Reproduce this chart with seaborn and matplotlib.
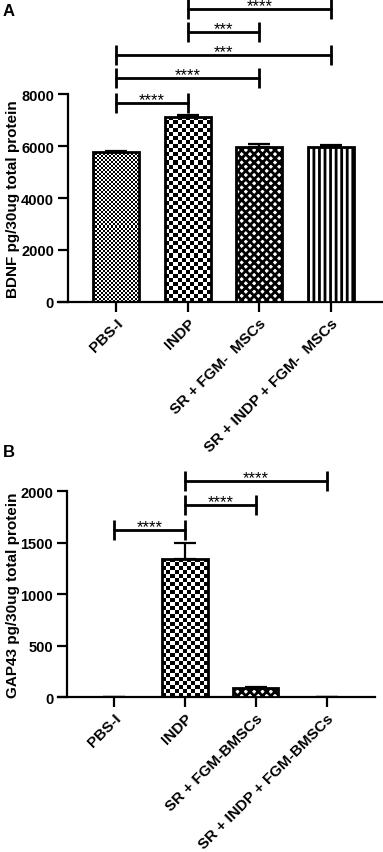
import numpy as np
import pandas as pd
import matplotlib
matplotlib.use("Agg")
import matplotlib.pyplot as plt
import seaborn as sns

# panel A - BDNF
bdnf_groups = ["PBS-I", "INDP", "SR + FGM-  MSCs", "SR + INDP + FGM-  MSCs"]
bdnf_mean = [5780, 7125, 5975, 5950]
bdnf_err = [45, 60, 100, 80]
bdnf_sig = [(0, 1, 7650, "****"), (0, 2, 8615, "****"), (0, 3, 9500, "***"),
            (1, 2, 10385, "***"), (1, 3, 11270, "****")]

# panel B - GAP43
gap_groups = ["PBS-I", "INDP", "SR + FGM-BMSCs", "SR + INDP + FGM-BMSCs"]
gap_mean = [0, 1340, 85, 0]
gap_err = [0, 160, 12, 0]
gap_sig = [(0, 1, 1620, "****"), (1, 2, 1865, "****"), (1, 3, 2100, "****")]

# fill style per bar: ("check", cell px) or hatch string
fills = [("check", 2), ("check", 4), ("hatch", "xxxx"), ("hatch", "|||")]

sns.set_style("ticks")
plt.rcParams["font.family"] = ["Liberation Sans", "DejaVu Sans"]
plt.rcParams["font.weight"] = "bold"
plt.rcParams["hatch.linewidth"] = 2.0
for k in ("text.color", "axes.labelcolor", "xtick.color", "ytick.color",
          "axes.edgecolor"):
    plt.rcParams[k] = "black"

fig = plt.figure(figsize=(3.83, 8.53), dpi=100)
axA = fig.add_axes([0.151, 0.6448, 0.846, 0.2438])
axB = fig.add_axes([0.151, 0.1817, 0.828, 0.2415])


def checker(nx, ny):
    return np.add.outer(np.arange(ny), np.arange(nx)) % 2


def panel(ax, groups, means, errs, sig, ymax, step, xlim, spine_x, ylabel):
    df = pd.DataFrame({"group": groups, "value": means})
    sns.barplot(data=df, x="group", y="value", ax=ax, color="white",
                edgecolor="black", linewidth=2.0, width=0.64, errorbar=None,
                saturation=1, zorder=3)
    ax.set_xlim(*xlim)
    ax.set_ylim(0, ymax)
    bars = ax.patches
    for bar, (kind, arg) in zip(bars, fills):
        if kind == "hatch":
            bar.set_hatch(arg)
            bar.set_facecolor("white")
        else:
            bar.set_facecolor("none")
            x0, w, h = bar.get_x(), bar.get_width(), bar.get_height()
            if h <= 0:
                continue
            p0 = ax.transData.transform((x0, 0))
            p1 = ax.transData.transform((x0 + w, h))
            nx = max(1, int(round((p1[0] - p0[0]) / arg)))
            ny = max(1, int(round((p1[1] - p0[1]) / arg)))
            im = ax.imshow(checker(nx, ny), cmap="gray", aspect="auto",
                           interpolation="nearest", extent=(x0, x0 + w, 0, h),
                           origin="lower", zorder=2)
            im.set_clip_path(bar)
    ax.set_xlim(*xlim)
    ax.set_ylim(0, ymax)

    xs = np.arange(len(groups))
    ax.errorbar(xs, means, yerr=[np.zeros(len(errs)), errs], fmt="none",
                ecolor="black", elinewidth=1.6, capsize=8, capthick=1.6,
                zorder=4)

    for a, b, y, txt in sig:
        ax.plot([a, b], [y, y], color="black", lw=2, marker="|",
                markersize=15, mew=2, clip_on=False, zorder=5)
        ax.annotate(txt, ((a + b) / 2, y), xytext=(0, -1),
                    textcoords="offset points", ha="center", va="baseline",
                    fontsize=12, fontweight="normal", annotation_clip=False)

    sns.despine(ax=ax)
    ax.spines["left"].set_position(("data", spine_x))
    ax.spines["left"].set_bounds(0, ymax)
    for s in ("left", "bottom"):
        ax.spines[s].set_linewidth(1.6)
    ax.set_yticks(np.arange(0, ymax + 1, step))
    ax.tick_params(axis="both", width=1.6, length=7, labelsize=10.5, pad=3)
    ax.set_xticks(xs)
    ax.set_xticklabels(groups, rotation=45, ha="right",
                       rotation_mode="anchor", fontweight="bold", fontsize=11)
    for t in ax.get_yticklabels():
        t.set_fontweight("bold")
    ax.set_xlabel("")
    ax.set_ylabel(ylabel, fontsize=11, fontweight="bold")


panel(axA, bdnf_groups, bdnf_mean, bdnf_err, bdnf_sig, 8000, 2000,
      (-0.81, 3.71), -0.67, "BDNF pg/30ug total protein")
panel(axB, gap_groups, gap_mean, gap_err, gap_sig, 2000, 500,
      (-0.79, 3.68), -0.66, "GAP43 pg/30ug total protein")
axA.yaxis.set_label_coords(-0.117, 0.5)
axB.yaxis.set_label_coords(-0.12, 0.5)

fig.text(0.008, 0.995, "A", fontsize=12, fontweight="bold", va="top")
fig.text(0.008, 0.478, "B", fontsize=12, fontweight="bold", va="top")

fig.savefig("out.png", dpi=100)
